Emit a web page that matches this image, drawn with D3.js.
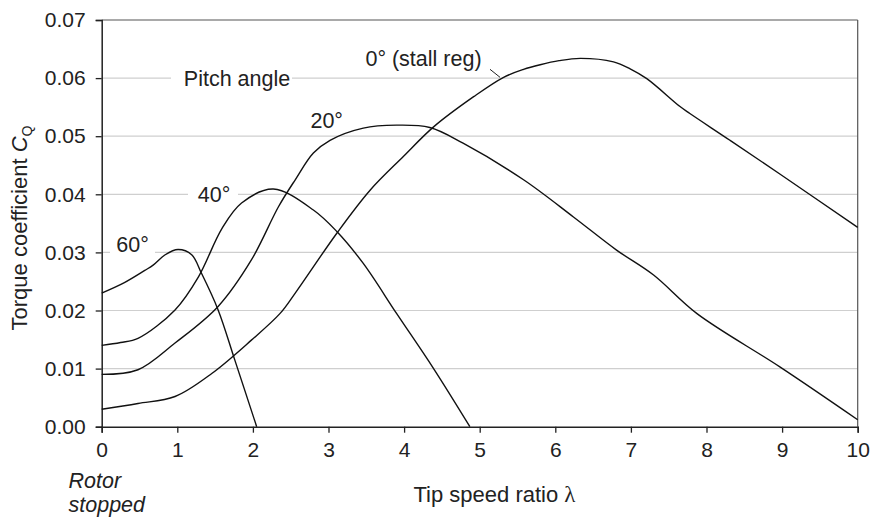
<!DOCTYPE html>
<html><head><meta charset="utf-8">
<script src="https://cdn.jsdelivr.net/npm/d3@7"></script>
<style>
body{margin:0;background:#fff;}
text{font-family:"Liberation Sans",Arial,sans-serif;fill:#222;}
</style></head>
<body><svg id="c" width="873" height="519"></svg>
<script>
const xTicks=[0,1,2,3,4,5,6,7,8,9,10];
const yTicks=[0,0.01,0.02,0.03,0.04,0.05,0.06,0.07];
const yTickLabels=["0.00","0.01","0.02","0.03","0.04","0.05","0.06","0.07"];

const lambda60=[0,0.3,0.57,0.68,0.84,1.01,1.19,1.32,1.54,1.76,2.05];
const cq60=[0.023,0.0248,0.0269,0.0278,0.0296,0.0305,0.0296,0.0264,0.0201,0.0115,0];

const lambda40=[0,0.25,0.48,0.97,1.28,1.59,1.85,2.27,2.80,3.11,3.46,3.90,4.39,4.87];
const cq40=[0.014,0.0145,0.0152,0.0201,0.0258,0.0341,0.0385,0.0409,0.0373,0.0336,0.0281,0.0195,0.0100,0];

const lambda20=[0,0.48,0.97,1.54,1.98,2.34,2.56,2.80,3.02,3.46,3.90,4.34,4.78,5.58,6.24,6.81,7.30,7.87,8.97,10];
const cq20=[0.009,0.0098,0.0144,0.0207,0.0287,0.0379,0.0425,0.0471,0.0493,0.0514,0.0519,0.0515,0.0488,0.0425,0.0361,0.0304,0.0261,0.0195,0.0103,0.0012];

const lambda0=[0,0.48,0.97,1.46,1.98,2.36,2.56,3.11,3.55,3.99,4.39,4.92,5.31,5.58,5.80,6.05,6.33,6.77,6.99,7.21,7.65,7.78,8.31,8.97,10];
const cq0=[0.003,0.004,0.0052,0.0092,0.0149,0.0195,0.023,0.0333,0.0407,0.0465,0.0516,0.0568,0.0601,0.0615,0.0623,0.063,0.0634,0.0628,0.0616,0.0599,0.0551,0.0539,0.0493,0.0435,0.0343];

const series=[
 {name:"60°",x:lambda60,y:cq60},
 {name:"40°",x:lambda40,y:cq40},
 {name:"20°",x:lambda20,y:cq20},
 {name:"0° (stall reg)",x:lambda0,y:cq0}
];

const svg=d3.select("#c");
const L=101.7,R=857.7,T=20,B=426.7;
const x=d3.scaleLinear().domain([0,10]).range([L,R]);
const y=d3.scaleLinear().domain([0,0.07]).range([B,T]);
const FS=21, LFS=21.5;

// gridlines
svg.append("g").selectAll("line").data(yTicks.filter(d=>d>0&&d<0.07)).join("line")
 .attr("x1",L).attr("x2",R).attr("y1",d=>y(d)).attr("y2",d=>y(d))
 .attr("stroke","#cfcfcf").attr("stroke-width",1.2);

// frame top and right
svg.append("line").attr("x1",L).attr("x2",R).attr("y1",T).attr("y2",T).attr("stroke","#555").attr("stroke-width",1.2);
svg.append("line").attr("x1",R).attr("x2",R).attr("y1",T).attr("y2",B).attr("stroke","#555").attr("stroke-width",1.2);

// axes
const xa=svg.append("g").attr("transform",`translate(0,${B})`)
 .call(d3.axisBottom(x).tickValues(xTicks).tickSize(6).tickPadding(9).tickFormat(d3.format("d")));
const ya=svg.append("g").attr("transform",`translate(${L},0)`)
 .call(d3.axisLeft(y).tickValues(yTicks).tickSize(6).tickPadding(10).tickFormat((d,i)=>yTickLabels[i]));
[xa,ya].forEach(a=>{
 a.select(".domain").attr("stroke","#222").attr("stroke-width",1.5);
 a.selectAll(".tick line").attr("stroke","#222").attr("stroke-width",1.3);
 a.selectAll("text").attr("font-size",FS).attr("fill","#222").attr("font-family","Liberation Sans, Arial, sans-serif");
});

// labels with white background over gridlines
function bgLabel(txt,cx,cy,x0,x1){
 svg.append("rect").attr("x",x0).attr("y",cy-4).attr("width",x1-x0).attr("height",8).attr("fill","#fff");
 svg.append("text").attr("x",cx).attr("y",cy).attr("dy","0.36em").attr("text-anchor","middle").attr("font-size",LFS).text(txt);
}
bgLabel("Pitch angle",237,y(0.06),171,292);
bgLabel("40°",214,y(0.04),188,238);
svg.append("rect").attr("x",110).attr("y",y(0.03)-4).attr("width",45).attr("height",8).attr("fill","#fff");
svg.append("text").attr("x",132.5).attr("y",251.5).attr("text-anchor","middle").attr("font-size",LFS).text("60°");
svg.append("text").attr("x",326.7).attr("y",128.3).attr("text-anchor","middle").attr("font-size",LFS).text("20°");
svg.append("text").attr("x",423.5).attr("y",65.7).attr("text-anchor","middle").attr("font-size",LFS).text("0° (stall reg)");
svg.append("line").attr("x1",490).attr("y1",69.3).attr("x2",500).attr("y2",77.3).attr("stroke","#222").attr("stroke-width",1);

// curves
const line=d3.line().curve(d3.curveCatmullRom.alpha(0.5));
svg.append("g").selectAll("path").data(series).join("path")
 .attr("d",s=>line(s.x.map((v,i)=>[x(v),y(s.y[i])])))
 .attr("fill","none").attr("stroke","#111").attr("stroke-width",1.4);

// axis titles
const yt=svg.append("text").attr("transform","translate(27,228) rotate(-90)").attr("text-anchor","middle").attr("font-size",22);
yt.append("tspan").text("Torque coefficient ");
yt.append("tspan").attr("font-style","italic").text("C");
yt.append("tspan").attr("font-size",14).attr("dy",5).text("Q");

const xt=svg.append("text").attr("x",494.5).attr("y",502).attr("text-anchor","middle").attr("font-size",22);
xt.append("tspan").text("Tip speed ratio ");
xt.append("tspan").attr("font-family","Liberation Serif, serif").attr("font-size",23).text("λ");

svg.append("text").attr("x",68.5).attr("y",488.3).attr("font-size",LFS).attr("font-style","italic").text("Rotor");
svg.append("text").attr("x",68.5).attr("y",511.7).attr("font-size",LFS).attr("font-style","italic").text("stopped");
</script></body></html>
